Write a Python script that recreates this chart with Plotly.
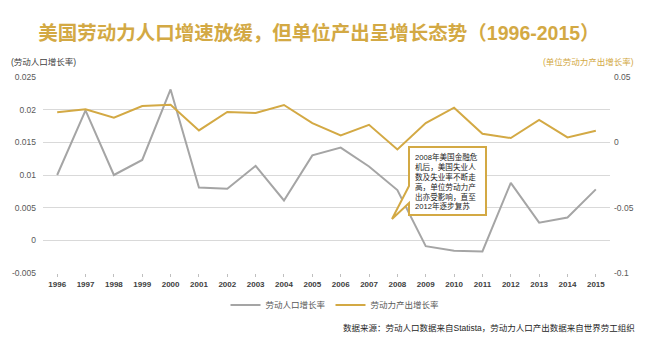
import plotly.graph_objects as go

years = [str(y) for y in range(1996, 2016)]
labor_growth = [0.0100, 0.0199, 0.0100, 0.0123, 0.0231, 0.0081, 0.0079, 0.0114, 0.0061, 0.0130,
                0.0142, 0.0113, 0.0077, -0.0009, -0.0016, -0.0017, 0.0088, 0.0027, 0.0035, 0.0078]
output_growth = [0.0230, 0.0253, 0.0189, 0.0278, 0.0288, 0.0091, 0.0233, 0.0225, 0.0286, 0.0147,
                 0.0053, 0.0134, -0.0055, 0.0147, 0.0265, 0.0066, 0.0033, 0.0172, 0.0038, 0.0089]

left_ticks = [-0.005, 0, 0.005, 0.01, 0.015, 0.02, 0.025]
left_tick_text = ["-0.005", "0", "0.005", "0.01", "0.015", "0.02", "0.025"]
right_ticks = [-0.1, -0.05, 0, 0.05]
right_tick_text = ["-0.1", "-0.05", "0", "0.05"]

GOLD = "#D3A944"
GRAY = "#A5A5A5"
FONT = "Liberation Sans, Noto Sans CJK SC, sans-serif"

W, H = 658, 344
L, R, T, B = 43, 610, 77, 273


def px(p):
    return (p - L) / (R - L)


def py(p):
    return (B - p) / (B - T)


fig = go.Figure()
fig.add_trace(go.Scatter(x=years, y=labor_growth, name="劳动人口增长率", mode="lines",
                         line=dict(color=GRAY, width=2), yaxis="y"))
fig.add_trace(go.Scatter(x=years, y=output_growth, name="劳动力产出增长率", mode="lines",
                         line=dict(color=GOLD, width=2), yaxis="y2"))

# callout box
bx0, bx1, by0, by1 = 409, 486, 147, 215
tip = (392, 219)
t0, t1 = 186, 203
path = (f"M {px(bx0)},{py(by0)} L {px(bx1)},{py(by0)} L {px(bx1)},{py(by1)} L {px(bx0)},{py(by1)} "
        f"L {px(bx0)},{py(t1)} L {px(tip[0])},{py(tip[1])} L {px(bx0)},{py(t0)} Z")
fig.add_shape(type="path", path=path, xref="paper", yref="paper",
              line=dict(color=GOLD, width=2), fillcolor="white", layer="above")

fig.add_annotation(
    text="2008年美国金融危<br>机后，美国失业人<br>数及失业率不断走<br>高，单位劳动力产<br>出亦受影响，直至<br>2012年逐步复苏",
    xref="paper", yref="paper", x=px(413), y=py(150), xanchor="left", yanchor="top",
    align="left", showarrow=False, font=dict(family=FONT, size=7.6, color="#222222"))

fig.add_annotation(text="(劳动人口增长率)", xref="paper", yref="paper", x=px(9), y=py(62),
                   xanchor="left", yanchor="middle", showarrow=False,
                   font=dict(family=FONT, size=8.5, color="#404040"))
fig.add_annotation(text="(单位劳动力产出增长率)", xref="paper", yref="paper", x=px(636), y=py(62),
                   xanchor="right", yanchor="middle", showarrow=False,
                   font=dict(family=FONT, size=8.5, color=GOLD))
fig.add_annotation(text="数据来源：劳动人口数据来自Statista，劳动力人口产出数据来自世界劳工组织",
                   xref="paper", yref="paper", x=px(637), y=py(328),
                   xanchor="right", yanchor="middle", showarrow=False,
                   font=dict(family=FONT, size=8.5, color="#262626"))

fig.update_layout(
    width=W, height=H,
    margin=dict(l=L, r=W - R, t=T, b=H - B, pad=0),
    paper_bgcolor="white", plot_bgcolor="white",
    font=dict(family=FONT),
    title=dict(text="美国劳动力人口增速放缓，但单位产出呈增长态势（1996-2015）",
               x=px(319), xanchor="center", y=1 - 33 / H, yanchor="middle",
               xref="paper", yref="container",
               font=dict(family=FONT, size=19.5, color=GOLD, weight="bold")),
    showlegend=True,
    legend=dict(orientation="h", x=px(335), xanchor="center", y=py(305), yanchor="middle",
                font=dict(family=FONT, size=8.5, color="#595959"), bgcolor="rgba(0,0,0,0)",
                itemwidth=30, tracegroupgap=0),
    xaxis=dict(type="category", range=[-0.5, 19.5], showgrid=False, zeroline=False,
               showline=False, ticks="outside", ticklen=3, tickcolor="#BFBFBF",
               tickfont=dict(family=FONT, size=8, color="#404040", weight="bold")),
    yaxis=dict(range=[-0.005, 0.025], tickvals=left_ticks, ticktext=left_tick_text,
               showgrid=True, gridcolor="#D9D9D9", gridwidth=1, zeroline=False,
               showline=False, ticks="", ticklabelstandoff=6,
               tickfont=dict(family=FONT, size=8.5, color="#595959")),
    yaxis2=dict(range=[-0.1, 0.05], tickvals=right_ticks, ticktext=right_tick_text,
                overlaying="y", side="right", showgrid=False, zeroline=False, showline=False,
                ticks="", ticklabelstandoff=3,
                tickfont=dict(family=FONT, size=8.5, color="#595959")),
)

fig.write_html("out.html")
